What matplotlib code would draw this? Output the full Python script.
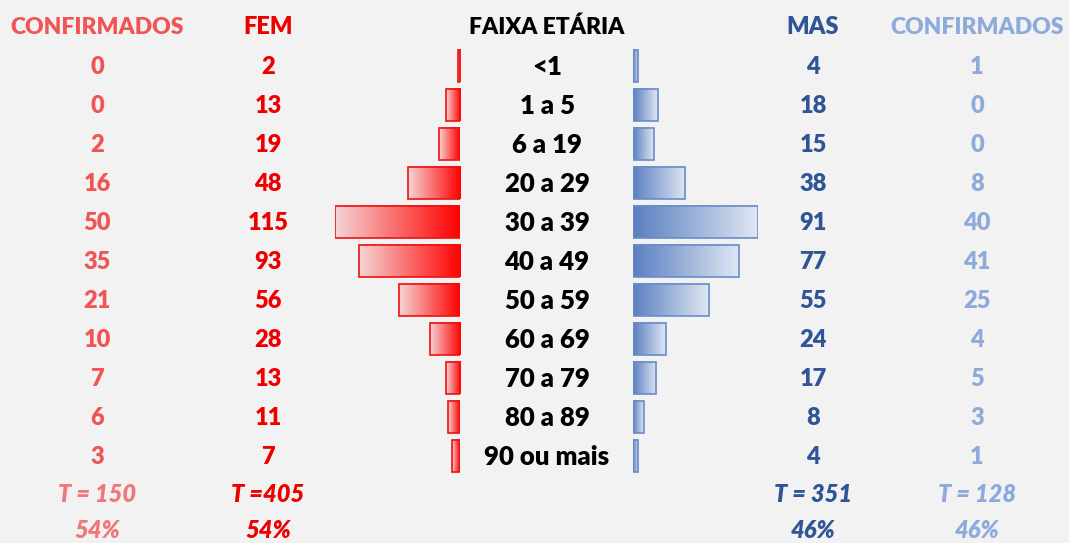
import numpy as np
import matplotlib
matplotlib.use("Agg")
import matplotlib.pyplot as plt
from matplotlib.colors import LinearSegmentedColormap

ages = ["<1", "1 a 5", "6 a 19", "20 a 29", "30 a 39", "40 a 49", "50 a 59",
        "60 a 69", "70 a 79", "80 a 89", "90 ou mais"]
fem = [2, 13, 19, 48, 115, 93, 56, 28, 13, 11, 7]
mas = [4, 18, 15, 38, 91, 77, 55, 24, 17, 8, 4]
conf_fem = [0, 0, 2, 16, 50, 35, 21, 10, 7, 6, 3]
conf_mas = [1, 0, 0, 8, 40, 41, 25, 4, 5, 3, 1]
tot_labels = ["T = 150", "T =405", "T = 351", "T = 128"]
pct_labels = ["54%", "54%", "46%", "46%"]

W, H = 1069, 543
BG = "#f2f2f2"
C_CF = "#f05454"
C_F = "#ee0000"
C_TCF = "#f07878"
C_M = "#2f5597"
C_CM = "#8eaadb"
FONT = "Lato"

fig = plt.figure(figsize=(W / 100, H / 100), dpi=100, facecolor=BG)

# text layer in pixel coordinates
tx = fig.add_axes([0, 0, 1, 1])
tx.set_xlim(0, W)
tx.set_ylim(H, 0)
tx.axis("off")
tx.set_facecolor(BG)

y0, dy = 66, 39.0
n = len(ages)
rows = [y0 + dy * i for i in range(n)]
xs = dict(cf=97, f=268, age=547, m=813, cm=977)
fs = 17

def t(x, y, s, c, style="normal", size=fs):
    tx.text(x, y, s, color=c, fontsize=size, fontweight=800, family=FONT,
            ha="center", va="center", style=style)

hy = 27
t(xs["cf"], hy, "CONFIRMADOS", C_CF, size=16.5)
t(xs["f"], hy, "FEM", C_F)
t(xs["age"], hy, "FAIXA ETÁRIA", "black", size=16.5)
t(xs["m"], hy, "MAS", C_M)
t(xs["cm"], hy, "CONFIRMADOS", C_CM, size=16.5)
for i, y in enumerate(rows):
    t(xs["cf"], y + 1, str(conf_fem[i]), C_CF)
    t(xs["f"], y + 1, str(fem[i]), C_F)
    t(xs["age"], y + 1, ages[i], "black", size=18.5)
    t(xs["m"], y + 1, str(mas[i]), C_M)
    t(xs["cm"], y + 1, str(conf_mas[i]), C_CM)

ty, py = 495, 531
cols = [(xs["cf"], C_TCF), (xs["f"], C_F), (xs["m"], C_M), (xs["cm"], C_CM)]
for (x, c), tl, pl in zip(cols, tot_labels, pct_labels):
    t(x, ty, tl, c, "italic")
    t(x, py, pl, c, "italic")

# bar axes
top_px = y0 - dy / 2
bot_px = rows[-1] + dy / 2
ax_h = (bot_px - top_px) / H
ax_b = 1 - bot_px / H
fx0, fx1 = 335, 460
mx0, mx1 = 633, 758
axf = fig.add_axes([fx0 / W, ax_b, (fx1 - fx0) / W, ax_h])
axm = fig.add_axes([mx0 / W, ax_b, (mx1 - mx0) / W, ax_h])

cmap_f = LinearSegmentedColormap.from_list("f", ["#f5d5d5", "#ff0000"])
cmap_m = LinearSegmentedColormap.from_list("m", ["#5a7fc0", "#dfe7f3"])
grad = np.linspace(0, 1, 256).reshape(1, -1)
bh = 0.84

for ax, vals, cmap, edge, inv in [(axf, fem, cmap_f, "#ee1111", True),
                                  (axm, mas, cmap_m, "#6a8cc8", False)]:
    vmax = max(vals)
    ax.axis("off")
    ax.patch.set_alpha(0)
    for i, v in enumerate(vals):
        ext = (v, 0, i + bh / 2, i - bh / 2) if inv else (0, v, i + bh / 2, i - bh / 2)
        ax.imshow(grad, cmap=cmap, aspect="auto", extent=ext,
                  interpolation="bilinear", zorder=1)
        ax.barh(i, v, height=bh, color="none", edgecolor=edge, linewidth=1.2, zorder=2)
    if inv:
        ax.set_xlim(vmax, 0)
    else:
        ax.set_xlim(0, vmax)
    ax.set_ylim(n - 0.5, -0.5)

fig.savefig("out.png", dpi=100, facecolor=BG)
